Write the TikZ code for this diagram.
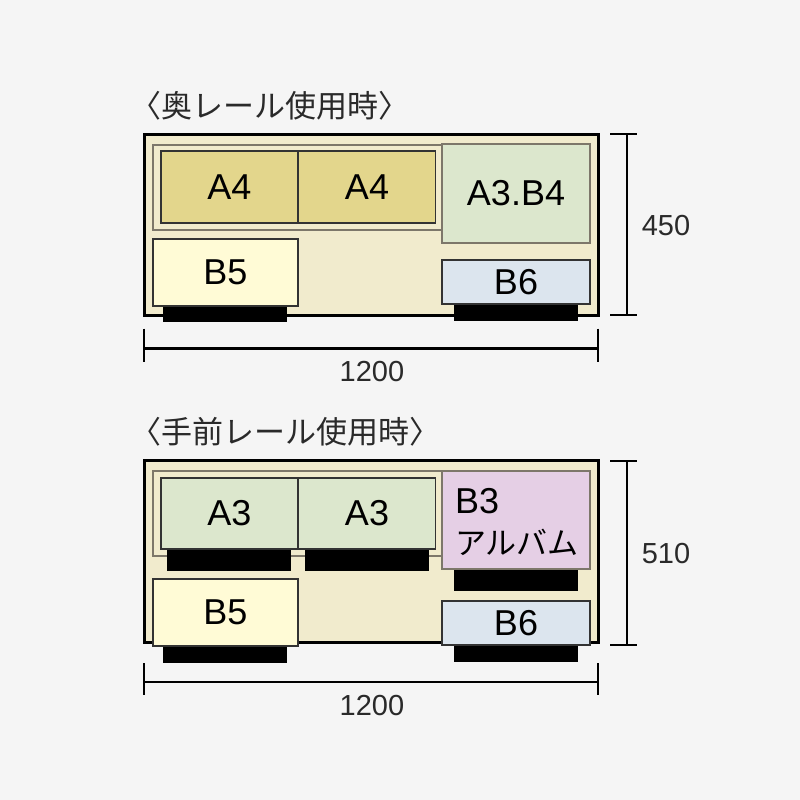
\documentclass[tikz,border=0pt]{standalone}
\usepackage{fontspec}
\setmainfont{Liberation Sans}
\newfontfamily\jpfont{Noto Sans CJK JP}
\usepackage{xcolor}
\usetikzlibrary{calc}
\definecolor{pagegray}{HTML}{F5F5F5}
\definecolor{shelf}{HTML}{F1EBCD}
\definecolor{trayline}{HTML}{7D776A}
\definecolor{sizeAfour}{HTML}{E3D68C}
\definecolor{sizeAthree}{HTML}{DCE7CD}
\definecolor{sizeBfive}{HTML}{FFFBD6}
\definecolor{sizeBsix}{HTML}{DCE5EE}
\definecolor{sizeBthree}{HTML}{E5CFE5}
\definecolor{inktext}{HTML}{2A2A2A}
\tikzset{
	paper/.style={draw=black!80,line width=1.1pt,minimum width=#1,inner sep=0pt,outer sep=0pt,text=black,font=\fontsize{36}{36}\selectfont},
	paper/.default=137pt,
	rail/.style={fill=black,draw=none,minimum width=124pt,inner sep=0pt,outer sep=0pt},
	tray/.style={fill=shelf,draw=trayline,line width=1.6pt,inner sep=0pt,outer sep=0pt},
	cabinet/.style={fill=shelf,draw=black,line width=3pt,minimum width=454pt,inner sep=0pt,outer sep=0pt},
	dimline/.style={draw=black,line width=2.8pt},
	dimtext/.style={text=inktext,inner sep=0pt,font=\fontsize{29}{29}\selectfont},
	heading/.style={text=inktext,inner sep=0pt,anchor=west,font=\jpfont\fontsize{31}{31}\selectfont}
}

\begin{document}
\begin{tikzpicture}[x=1pt,y=-1pt]
	\fill[pagegray] (0,0) rectangle (800,800);
	\useasboundingbox (0,0) rectangle (800,800);

	% upper
	\node[heading] (title1) at (130,106) {〈奥レール使用時〉};
	\node[cabinet,minimum height=181pt] (box1) at (371,224.5) {};
	\node[tray,minimum width=292pt,minimum height=85pt] (tray1) at (299,187.5) {};
	\node[paper,fill=sizeAfour,minimum height=72pt] (a41) at (229.5,187) {A4};
	\node[paper,fill=sizeAfour,minimum height=72pt] (a42) at (367,187) {A4};
	\node[paper=148pt,fill=sizeAthree,minimum height=99pt,draw=trayline] (a3b4) at (516,193.5) {A3.B4};
	\node[rail,minimum height=16pt] (rail1) at (225,314) {};
	\node[paper=145pt,fill=sizeBfive,minimum height=67pt] (b51) at (225.5,272.5) {B5};
	\node[rail,minimum height=17pt] (rail2) at (516,312.5) {};
	\node[paper=148pt,fill=sizeBsix,minimum height=44pt] (b61) at (516,282) {B6};

	\coordinate (w1) at (144,348.5);
	\coordinate (e1) at (598,348.5);
	\coordinate (n1) at (627,134);
	\coordinate (s1) at (627,315);
	\draw[dimline] (w1) -- (e1);
	\draw[dimline] ($(w1)+(0,-20)$) -- ($(w1)+(0,13)$);
	\draw[dimline] ($(e1)+(0,-20)$) -- ($(e1)+(0,13)$);
	\draw[dimline] (n1) -- (s1);
	\draw[dimline] ($(n1)+(-17,0)$) -- ($(n1)+(10,0)$);
	\draw[dimline] ($(s1)+(-17,0)$) -- ($(s1)+(10,0)$);
	\node[dimtext] (len1) at (372,371.5) {1200};
	\node[dimtext] (dep1) at (666,225.5) {450};

	% lower
	\node[heading] (title2) at (130,432) {〈手前レール使用時〉};
	\node[cabinet,minimum height=182pt] (box2) at (371,551) {};
	\node[tray,minimum width=292pt,minimum height=85pt] (tray2) at (299,513.5) {};
	\node[rail,minimum height=22pt] (rail3) at (229,560) {};
	\node[rail,minimum height=22pt] (rail4) at (366.5,560) {};
	\node[paper,fill=sizeAthree,minimum height=71pt] (a31) at (229.5,513.5) {A3};
	\node[paper,fill=sizeAthree,minimum height=71pt] (a32) at (367,513.5) {A3};
	\node[rail,minimum height=22pt] (rail5) at (516,580) {};
	\node[paper=148pt,fill=sizeBthree,minimum height=98pt,draw=trayline,align=left,text width=122pt] (b3) at (516,520) {\rule{0pt}{30pt}B3\\[5pt]{\jpfont\fontsize{31}{31}\selectfont アルバム}};
	\node[rail,minimum height=17pt] (rail6) at (225,654.5) {};
	\node[paper=145pt,fill=sizeBfive,minimum height=67pt] (b52) at (225.5,612.5) {B5};
	\node[rail,minimum height=17pt] (rail7) at (516,653.5) {};
	\node[paper=148pt,fill=sizeBsix,minimum height=44pt] (b62) at (516,623) {B6};

	\coordinate (w2) at (144,682);
	\coordinate (e2) at (598,682);
	\coordinate (n2) at (627,461);
	\coordinate (s2) at (627,645);
	\draw[dimline] (w2) -- (e2);
	\draw[dimline] ($(w2)+(0,-19)$) -- ($(w2)+(0,13)$);
	\draw[dimline] ($(e2)+(0,-19)$) -- ($(e2)+(0,13)$);
	\draw[dimline] (n2) -- (s2);
	\draw[dimline] ($(n2)+(-17,0)$) -- ($(n2)+(10,0)$);
	\draw[dimline] ($(s2)+(-17,0)$) -- ($(s2)+(10,0)$);
	\node[dimtext] (len2) at (372,705.5) {1200};
	\node[dimtext] (dep2) at (666,553.5) {510};
\end{tikzpicture}
\end{document}
